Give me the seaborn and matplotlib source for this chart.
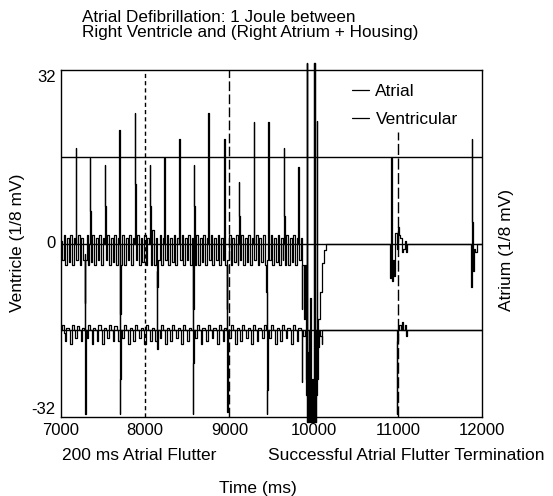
import matplotlib
matplotlib.use("Agg")
import matplotlib.pyplot as plt
import seaborn as sns
import pandas as pd

# ---------------- data ----------------
atrial_t = [
    7000, 7012, 7030, 7050, 7072, 7092, 7112, 7132, 7152, 7168,
    7174, 7178, 7183, 7200, 7222, 7242, 7262, 7282, 7290, 7305, 7325, 7338,
    7344, 7348, 7353, 7372, 7392, 7412, 7434, 7455, 7476, 7496, 7516,
    7523, 7527, 7532, 7550, 7570, 7590, 7612, 7632, 7652, 7672, 7687,
    7693, 7697, 7701, 7710, 7728, 7748, 7768, 7790, 7810, 7830, 7852, 7872,
    7879, 7883, 7888, 7905, 7925, 7945, 7967, 7987, 8007, 8027, 8050,
    8057, 8061, 8066, 8085, 8105, 8125, 8140, 8150, 8170, 8190, 8210, 8221,
    8227, 8231, 8236, 8255, 8275, 8295, 8317, 8337, 8357, 8377, 8399,
    8405, 8409, 8414, 8432, 8452, 8472, 8494, 8514, 8534, 8554, 8566, 8574,
    8580, 8584, 8589, 8607, 8627, 8647, 8669, 8689, 8709, 8729, 8744,
    8750, 8754, 8759, 8777, 8797, 8817, 8839, 8859, 8879, 8899, 8919, 8933,
    8940, 8944, 8949, 8968, 8976, 8995, 9015, 9035, 9057, 9077, 9097, 9108,
    9114, 9118, 9123, 9142, 9162, 9182, 9204, 9224, 9244, 9264, 9282,
    9288, 9292, 9297, 9316, 9336, 9356, 9378, 9398, 9418, 9440, 9448, 9456,
    9462, 9466, 9471, 9490, 9510, 9530, 9552, 9572, 9592, 9612, 9632, 9642,
    9648, 9652, 9657, 9676, 9696, 9716, 9738, 9758, 9778, 9798, 9812,
    9818, 9822, 9827, 9845, 9858, 9866, 9885, 9900, 9910,
    9918, 9924, 9935, 9945, 9955, 9965, 9980, 9995, 10008, 10014, 10025,
    10036, 10040, 10055, 10075, 10095, 10120, 10150,
    10400, 10700, 10900, 10910, 10916, 10922, 10926, 10930, 10940, 10955,
    10970, 10985, 11000, 11015, 11030, 11045, 11060, 11080, 11100, 11115,
    11300, 11600, 11860, 11872, 11878, 11882, 11888, 11900, 11915, 11935, 12000,
]
atrial_v = [
    0.5, -3, 1.5, -4, 1, -3.5, 1.5, -4, 1, 0,
    17.6, 8, -3, 1.5, -4, 1, -3, -11, -3, 1.5, -4, 0,
    15.8, 6, -3.5, 1.5, -4, 1, -3, 1.5, -4, 1, 0,
    14.4, 7, -3, 1.5, -4, 1, -3.5, 1.5, -4, 1, 0,
    21, 10, -13, -4, 1.5, -4, 1, -3, 1.5, -4, 1, 0,
    24, 11, -3, 1.5, -4, 1, -3.5, 1.5, -4, 1, 0,
    14.4, 7, -4, 2.5, -4, 1, -8, -3, 1.5, -4, 1, 0,
    15.8, 9, -3, 1.5, -4, 1, -3.5, 1.5, -4, 1, 0,
    19.3, 8, -3, 1.5, -4, 1, -3, 1.5, -4, 1, -12, -3,
    14.4, 7, -4, 1.5, -4, 1, -3.5, 1.5, -4, 1, 0,
    24, 12, -3, 1.5, -4, 1, -3, 1.5, -4, 1, -3, 0,
    19.3, 5, -4, -12, -3, 1.5, -4, 1, -3.5, 1.5, -4, 0,
    11.3, 5, -3, 1.5, -4, 1, -3.5, 1.5, -4, 1, 0,
    22.4, 11, -3, 1.5, -4, 1, -3.5, 1.5, -4, -9, -3, 0,
    22.4, 12, -3, 1.5, -4, 1, -3.5, 1.5, -4, 1, -3, 0,
    17.6, 5, -4, 1.5, -4, 1, -3.5, 1.5, -4, 1, 0,
    14.2, 4, -3, 1, -12, -4, -14, -4, -28,
    33.3, -33, -20, -33, -10, -33, -25, -33, 33.3, -33, -28,
    22.6, -25, -14, -9, -3.6, -1.2, 0,
    0, 0, 0, -6.4, 7.4, 15.8, 7, -7, -3, -6,
    2, -1, 3, 1.5, 1, -1.5, -1, 0.5, -1.5, 0,
    0, 0, 0, -8, 19.3, 4, -5, -1, -1.5, 0, 0,
]

ventricular_t = [
    7000, 7015, 7035, 7050, 7065, 7090, 7110, 7125, 7150, 7170, 7190, 7215,
    7235, 7255, 7275, 7282, 7287, 7292, 7310, 7325, 7345, 7365, 7380, 7405,
    7425, 7445, 7470, 7490, 7510, 7530, 7550, 7570, 7595, 7615, 7635, 7660,
    7680, 7695, 7698, 7702, 7706, 7710, 7730, 7750, 7775, 7795, 7815, 7840,
    7860, 7880, 7905, 7925, 7945, 7970, 7990, 8010, 8035, 8055, 8075, 8100,
    8120, 8138, 8143, 8150, 8170, 8190, 8215, 8235, 8255, 8280, 8300, 8320,
    8345, 8365, 8385, 8410, 8430, 8450, 8475, 8495, 8515, 8540, 8562, 8566,
    8570, 8576, 8595, 8615, 8640, 8660, 8680, 8705, 8725, 8745, 8770, 8790,
    8810, 8835, 8855, 8875, 8900, 8920, 8940, 8960, 8968, 8972, 8978, 9000,
    9020, 9045, 9065, 9085, 9110, 9130, 9150, 9175, 9195, 9215, 9240, 9260,
    9280, 9305, 9325, 9345, 9370, 9390, 9410, 9435, 9441, 9445, 9450, 9456,
    9475, 9495, 9520, 9540, 9560, 9585, 9605, 9625, 9650, 9670, 9690, 9715,
    9735, 9755, 9780, 9800, 9820, 9845, 9858, 9863, 9880, 9895, 9910,
    9918, 9924, 9940, 9960, 9975, 10000, 10008, 10014, 10022, 10030, 10045,
    10060, 10080, 10095, 10105, 10400, 10700, 10980, 10986, 10990, 10996,
    11005, 11020, 11035, 11050, 11065, 11080, 11095, 11110, 11400, 12000,
]
ventricular_v = [
    -16, -15, -16.5, -18, -15.5, -16, -18.5, -15, -16, -17.5, -15.2, -16,
    -18, -15.5, -16, -2, -31.5, -16, -17.5, -15, -16, -18.5, -15.5, -16,
    -18, -15, -16, -18.5, -15.5, -16, -17.5, -15, -16, -18, -15.2, -16,
    -18, -16, 0, -31.5, -25, -16, -17.5, -15, -16, -18.5, -15.5, -16,
    -18, -15, -16, -17.5, -15.5, -16, -18.5, -15, -16, -18, -15.5, -16,
    -18, -5, -19.5, -16, -17.5, -15, -16, -18.5, -15.5, -16, -18, -15,
    -16, -17.5, -15.5, -16, -18.5, -15, -16, -18, -15.5, -16, -3, -31.5,
    -22, -16, -17.5, -15, -16, -18.5, -15.5, -16, -18, -15, -16, -17.5,
    -15.5, -16, -18.5, -15, -16, -18, -15.5, -16, -4, -31, -16, -17.5,
    -15, -16, -18.5, -15.5, -16, -18, -15, -16, -17.5, -15.5, -16, -18.5,
    -15, -16, -18, -15.5, -16, -17.5, -15, -16, -9, -31.5, -27, -16,
    -17.5, -15, -16, -18.5, -15.5, -16, -18, -15, -16, -17.5, -15.5, -16,
    -18.5, -15, -16, -18, -15.5, -16, -25.5, -16, -17, -16, -25,
    33.3, -33, -16, -30, -33, -16, 33.3, -33, -33, -16, -19,
    -16, -17, -18.5, -16, -16, -16, -16, -31.5, -20, -18,
    -16, -15, -16, -14.5, -16, -15, -17, -16, -16, -16,
]

y_ticks = [-32, 0, 32]
x_ticks = [7000, 8000, 9000, 10000, 11000, 12000]
ref_levels = [16, 0, -16]

# ---------------- plotting ----------------
sns.set_theme(style="white")
plt.rcParams["font.family"] = ["Liberation Sans", "DejaVu Sans"]
plt.rcParams["text.color"] = "black"
plt.rcParams["axes.labelcolor"] = "black"

W, H = 553, 496
fig = plt.figure(figsize=(W / 100, H / 100), dpi=100)
ax = fig.add_axes([61 / W, 1 - 417 / H, (482 - 61) / W, (417 - 70) / H])

df_a = pd.DataFrame({"t": atrial_t, "v": atrial_v})
df_v = pd.DataFrame({"t": ventricular_t, "v": ventricular_v})

sns.lineplot(data=df_a, x="t", y="v", ax=ax, color="black", lw=0.9,
             estimator=None, sort=False, drawstyle="steps-post",
             clip_on=False, label="Atrial")
sns.lineplot(data=df_v, x="t", y="v", ax=ax, color="black", lw=0.9,
             estimator=None, sort=False, drawstyle="steps-post",
             clip_on=False, label="Ventricular")

for lv in ref_levels:
    ax.axhline(lv, color="black", lw=1.0)

ax.axvline(8000, color="black", lw=1.0, ls=(0, (3, 2.2)))
ax.axvline(9000, color="black", lw=1.0, ls=(0, (7, 2.4)))
ax.vlines(11000, -32, 20.6, color="black", lw=1.0, linestyles=[(0, (8, 2.5))])

fs = 12.5
ax.set_xlim(7000, 12000)
ax.set_ylim(-32, 32)
ax.set_xticks(x_ticks)
ax.set_xticklabels([str(x) for x in x_ticks])
ax.set_yticks(y_ticks)
ax.set_yticklabels([str(y) for y in y_ticks])
ax.tick_params(axis="both", which="both", direction="out", length=2,
               width=1, colors="black", labelsize=12, pad=2)
ylabs = ax.get_yticklabels()
ylabs[0].set_va("bottom")
ylabs[1].set_va("center")
ylabs[2].set_va("top")
for s in ax.spines.values():
    s.set_visible(True)
    s.set_color("black")
    s.set_linewidth(1.0)
ax.set_xlabel("")
ax.set_ylabel("")

leg = ax.legend(loc="upper left", bbox_to_anchor=((352 - 61) / 421, 1 - 14 / 347),
                frameon=False, fontsize=fs, handlelength=1.0,
                handletextpad=0.35, labelspacing=0.72, borderaxespad=0,
                borderpad=0)
for txt in leg.get_texts():
    txt.set_color("black")

fig.text(82 / W, 1 - 10 / H,
         "Atrial Defibrillation: 1 Joule between\nRight Ventricle and (Right Atrium + Housing)",
         ha="left", va="top", fontsize=12.3, linespacing=1.0, color="black")
fig.text(62 / W, 1 - 455 / H, "200 ms Atrial Flutter", ha="left", va="center",
         fontsize=fs, color="black")
fig.text(268 / W, 1 - 455 / H, "Successful Atrial Flutter Termination",
         ha="left", va="center", fontsize=fs, color="black")
fig.text(258 / W, 1 - 489 / H, "Time (ms)", ha="center", va="center",
         fontsize=fs, color="black")
fig.text(18 / W, 1 - 243 / H, "Ventricle (1/8 mV)", ha="center", va="center",
         rotation=90, fontsize=fs, color="black")
fig.text(506 / W, 1 - 250 / H, "Atrium (1/8 mV)", ha="center", va="center",
         rotation=90, fontsize=fs, color="black")

fig.savefig("out.png", dpi=100, facecolor="white")
